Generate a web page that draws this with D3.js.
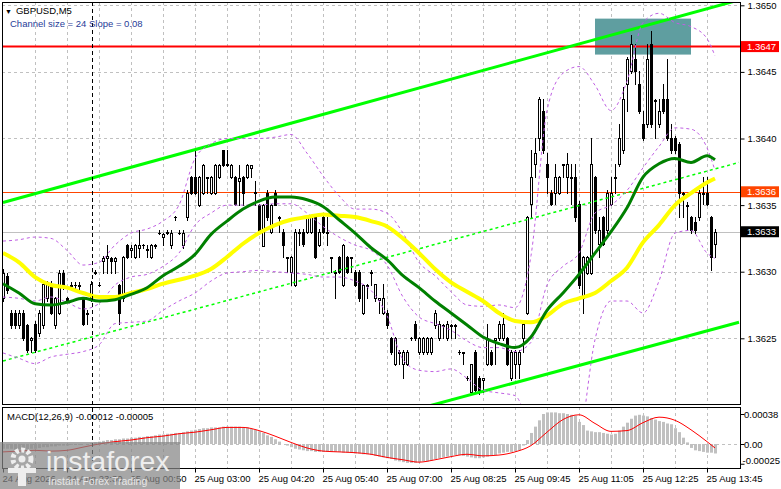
<!DOCTYPE html>
<html lang="en">
<head>
<meta charset="UTF-8">
<title>GBPUSD,M5</title>
<script src="https://d3js.org/d3.v7.min.js"></script>
<style>
  body { margin: 0; background: #fff; }
  svg { display: block; font-family: "Liberation Sans", Arial, sans-serif; }
</style>
</head>
<body>
<svg id="chart" width="781" height="489"></svg>
<script>
// 5-minute candles (bar 0 = leftmost)
const opens = [
  1.36280, 1.36297, 1.36269, 1.36269, 1.36260, 1.36269, 1.36260, 1.36249, 1.36261, 1.36254,
  1.36260, 1.36280, 1.36291, 1.36260, 1.36269, 1.36299, 1.36280, 1.36290, 1.36290, 1.36290,
  1.36280, 1.36269, 1.36280, 1.36299, 1.36290, 1.36308, 1.36310, 1.36310, 1.36308, 1.36290,
  1.36280, 1.36320, 1.36316, 1.36311, 1.36318, 1.36320, 1.36316, 1.36311, 1.36320, 1.36329,
  1.36326, 1.36329, 1.36320, 1.36341, 1.36329, 1.36320, 1.36341, 1.36371, 1.36371, 1.36350,
  1.36359, 1.36370, 1.36359, 1.36359, 1.36371, 1.36391, 1.36380, 1.36371, 1.36371, 1.36368,
  1.36371, 1.36371, 1.36378, 1.36359, 1.36350, 1.36319, 1.36359, 1.36330, 1.36359, 1.36341,
  1.36330, 1.36310, 1.36300, 1.36290, 1.36329, 1.36330, 1.36330, 1.36330, 1.36341, 1.36320,
  1.36341, 1.36329, 1.36310, 1.36300, 1.36311, 1.36290, 1.36311, 1.36310, 1.36300, 1.36300,
  1.36269, 1.36289, 1.36299, 1.36280, 1.36279, 1.36269, 1.36269, 1.36250, 1.36231, 1.36240,
  1.36231, 1.36231, 1.36250, 1.36261, 1.36240, 1.36240, 1.36240, 1.36240, 1.36260, 1.36250,
  1.36259, 1.36250, 1.36259, 1.36260, 1.36240, 1.36239, 1.36220, 1.36210, 1.36240, 1.36220,
  1.36219, 1.36231, 1.36240, 1.36249, 1.36250, 1.36250, 1.36250, 1.36220, 1.36231, 1.36231,
  1.36250, 1.36269, 1.36351, 1.36381, 1.36400, 1.36421, 1.36381, 1.36359, 1.36359, 1.36359,
  1.36380, 1.36371, 1.36370, 1.36371, 1.36351, 1.36280, 1.36299, 1.36299, 1.36371, 1.36321,
  1.36341, 1.36331, 1.36351, 1.36370, 1.36381, 1.36391, 1.36441, 1.36451, 1.36460, 1.36441,
  1.36411, 1.36411, 1.36471, 1.36428, 1.36411, 1.36430, 1.36430, 1.36400, 1.36400, 1.36396,
  1.36358, 1.36349, 1.36341, 1.36337, 1.36341, 1.36359, 1.36359, 1.36341, 1.36321
];
const highs = [
  1.36302, 1.36299, 1.36271, 1.36271, 1.36271, 1.36271, 1.36261, 1.36251, 1.36263, 1.36271,
  1.36293, 1.36293, 1.36293, 1.36281, 1.36301, 1.36301, 1.36281, 1.36292, 1.36292, 1.36292,
  1.36281, 1.36271, 1.36293, 1.36301, 1.36292, 1.36312, 1.36320, 1.36311, 1.36311, 1.36291,
  1.36312, 1.36321, 1.36320, 1.36321, 1.36331, 1.36321, 1.36320, 1.36321, 1.36321, 1.36331,
  1.36329, 1.36331, 1.36331, 1.36342, 1.36331, 1.36331, 1.36361, 1.36372, 1.36391, 1.36372,
  1.36381, 1.36371, 1.36372, 1.36381, 1.36381, 1.36391, 1.36391, 1.36381, 1.36372, 1.36380,
  1.36372, 1.36381, 1.36380, 1.36368, 1.36351, 1.36351, 1.36361, 1.36351, 1.36361, 1.36342,
  1.36332, 1.36311, 1.36312, 1.36332, 1.36332, 1.36332, 1.36342, 1.36342, 1.36342, 1.36332,
  1.36342, 1.36341, 1.36311, 1.36301, 1.36312, 1.36321, 1.36312, 1.36311, 1.36301, 1.36301,
  1.36291, 1.36291, 1.36301, 1.36291, 1.36280, 1.36291, 1.36271, 1.36251, 1.36251, 1.36241,
  1.36241, 1.36241, 1.36251, 1.36263, 1.36251, 1.36251, 1.36251, 1.36251, 1.36271, 1.36263,
  1.36261, 1.36263, 1.36261, 1.36261, 1.36241, 1.36240, 1.36222, 1.36231, 1.36241, 1.36222,
  1.36220, 1.36261, 1.36241, 1.36250, 1.36263, 1.36269, 1.36251, 1.36241, 1.36241, 1.36241,
  1.36263, 1.36342, 1.36391, 1.36400, 1.36431, 1.36430, 1.36389, 1.36361, 1.36381, 1.36372,
  1.36381, 1.36389, 1.36381, 1.36381, 1.36353, 1.36312, 1.36312, 1.36400, 1.36372, 1.36341,
  1.36342, 1.36361, 1.36371, 1.36381, 1.36411, 1.36439, 1.36461, 1.36478, 1.36471, 1.36451,
  1.36421, 1.36471, 1.36481, 1.36430, 1.36430, 1.36441, 1.36460, 1.36411, 1.36402, 1.36397,
  1.36360, 1.36352, 1.36342, 1.36341, 1.36361, 1.36371, 1.36371, 1.36342, 1.36332
];
const lows = [
  1.36278, 1.36284, 1.36258, 1.36258, 1.36258, 1.36249, 1.36240, 1.36240, 1.36240, 1.36252,
  1.36258, 1.36278, 1.36268, 1.36258, 1.36268, 1.36287, 1.36278, 1.36288, 1.36288, 1.36287,
  1.36260, 1.36261, 1.36278, 1.36298, 1.36289, 1.36299, 1.36299, 1.36299, 1.36299, 1.36261,
  1.36278, 1.36310, 1.36311, 1.36310, 1.36311, 1.36318, 1.36311, 1.36310, 1.36318, 1.36328,
  1.36320, 1.36328, 1.36318, 1.36339, 1.36328, 1.36318, 1.36339, 1.36358, 1.36358, 1.36349,
  1.36358, 1.36359, 1.36358, 1.36358, 1.36370, 1.36379, 1.36379, 1.36370, 1.36350, 1.36350,
  1.36350, 1.36370, 1.36371, 1.36350, 1.36329, 1.36319, 1.36339, 1.36329, 1.36350, 1.36330,
  1.36311, 1.36300, 1.36290, 1.36289, 1.36320, 1.36319, 1.36329, 1.36329, 1.36310, 1.36319,
  1.36329, 1.36320, 1.36300, 1.36280, 1.36299, 1.36289, 1.36299, 1.36300, 1.36289, 1.36278,
  1.36268, 1.36280, 1.36290, 1.36278, 1.36269, 1.36268, 1.36258, 1.36238, 1.36230, 1.36231,
  1.36220, 1.36230, 1.36249, 1.36249, 1.36238, 1.36238, 1.36238, 1.36238, 1.36258, 1.36249,
  1.36250, 1.36249, 1.36250, 1.36250, 1.36238, 1.36231, 1.36219, 1.36209, 1.36209, 1.36208,
  1.36210, 1.36230, 1.36230, 1.36231, 1.36249, 1.36249, 1.36230, 1.36219, 1.36220, 1.36220,
  1.36240, 1.36268, 1.36341, 1.36371, 1.36391, 1.36389, 1.36359, 1.36350, 1.36351, 1.36358,
  1.36371, 1.36359, 1.36351, 1.36338, 1.36288, 1.36269, 1.36298, 1.36298, 1.36329, 1.36311,
  1.36320, 1.36329, 1.36350, 1.36359, 1.36379, 1.36389, 1.36421, 1.36449, 1.36441, 1.36419,
  1.36399, 1.36409, 1.36409, 1.36400, 1.36409, 1.36419, 1.36399, 1.36389, 1.36389, 1.36341,
  1.36341, 1.36331, 1.36329, 1.36329, 1.36339, 1.36351, 1.36350, 1.36301, 1.36311
];
const closes = [
  1.36299, 1.36286, 1.36260, 1.36260, 1.36269, 1.36250, 1.36241, 1.36250, 1.36241, 1.36269,
  1.36291, 1.36291, 1.36269, 1.36280, 1.36299, 1.36290, 1.36279, 1.36289, 1.36290, 1.36289,
  1.36261, 1.36268, 1.36291, 1.36300, 1.36290, 1.36310, 1.36312, 1.36308, 1.36310, 1.36269,
  1.36311, 1.36311, 1.36318, 1.36320, 1.36320, 1.36320, 1.36317, 1.36320, 1.36319, 1.36329,
  1.36328, 1.36330, 1.36329, 1.36341, 1.36329, 1.36329, 1.36359, 1.36359, 1.36359, 1.36371,
  1.36380, 1.36371, 1.36371, 1.36380, 1.36380, 1.36380, 1.36381, 1.36380, 1.36351, 1.36370,
  1.36359, 1.36380, 1.36380, 1.36360, 1.36330, 1.36350, 1.36341, 1.36350, 1.36350, 1.36340,
  1.36320, 1.36311, 1.36311, 1.36330, 1.36330, 1.36321, 1.36341, 1.36341, 1.36311, 1.36330,
  1.36330, 1.36330, 1.36311, 1.36299, 1.36300, 1.36320, 1.36300, 1.36311, 1.36290, 1.36280,
  1.36290, 1.36290, 1.36300, 1.36291, 1.36280, 1.36280, 1.36260, 1.36240, 1.36250, 1.36239,
  1.36240, 1.36240, 1.36250, 1.36250, 1.36250, 1.36250, 1.36250, 1.36250, 1.36269, 1.36261,
  1.36260, 1.36261, 1.36260, 1.36259, 1.36240, 1.36240, 1.36220, 1.36231, 1.36211, 1.36211,
  1.36220, 1.36250, 1.36231, 1.36250, 1.36261, 1.36261, 1.36231, 1.36240, 1.36240, 1.36240,
  1.36261, 1.36341, 1.36371, 1.36389, 1.36430, 1.36391, 1.36371, 1.36351, 1.36371, 1.36371,
  1.36381, 1.36381, 1.36371, 1.36341, 1.36290, 1.36311, 1.36311, 1.36381, 1.36331, 1.36331,
  1.36321, 1.36359, 1.36359, 1.36371, 1.36400, 1.36430, 1.36460, 1.36471, 1.36451, 1.36421,
  1.36400, 1.36460, 1.36411, 1.36429, 1.36421, 1.36421, 1.36400, 1.36391, 1.36391, 1.36359,
  1.36359, 1.36350, 1.36331, 1.36331, 1.36359, 1.36358, 1.36351, 1.36311, 1.36330
];

// indicator lines read every 4th bar
const lineBars = [0, 4, 8, 12, 16, 20, 24, 28, 32, 36, 40, 44, 48, 52, 56, 60, 64, 68, 72, 76, 80, 84, 88,
  92, 96, 100, 104, 108, 112, 116, 120, 124, 128, 132, 136, 140, 144, 148, 152, 156, 160, 164, 168, 172, 176, 178];
const maGreen = [1.36291, 1.36284, 1.36276, 1.36275, 1.36277, 1.36280, 1.36278, 1.36279, 1.36283, 1.36288,
  1.36297, 1.36304, 1.36313, 1.36328, 1.36338, 1.36347, 1.36353, 1.36356, 1.36356, 1.36354, 1.36349, 1.36339,
  1.36329, 1.36318, 1.36309, 1.36297, 1.36288, 1.36278, 1.36269, 1.36260, 1.36251, 1.36246, 1.36243, 1.36251,
  1.36271, 1.36284, 1.36298, 1.36314, 1.36330, 1.36348, 1.36371, 1.36381, 1.36385, 1.36382, 1.36387, 1.36384];
const maYellow = [1.36314, 1.36307, 1.36296, 1.36290, 1.36288, 1.36284, 1.36281, 1.36281, 1.36284, 1.36287,
  1.36291, 1.36294, 1.36297, 1.36302, 1.36311, 1.36321, 1.36329, 1.36335, 1.36339, 1.36341, 1.36343, 1.36342,
  1.36341, 1.36338, 1.36334, 1.36325, 1.36314, 1.36302, 1.36292, 1.36285, 1.36278, 1.36269, 1.36263, 1.36262,
  1.36267, 1.36276, 1.36280, 1.36284, 1.36293, 1.36303, 1.36322, 1.36335, 1.36350, 1.36359, 1.36367, 1.36370];
const bandUpper = [1.36323, 1.36324, 1.36326, 1.36325, 1.36316, 1.36305, 1.36307, 1.36320, 1.36329, 1.36332,
  1.36338, 1.36350, 1.36385, 1.36396, 1.36400, 1.36400, 1.36400, 1.36401, 1.36403, 1.36389, 1.36372, 1.36357,
  1.36347, 1.36347, 1.36344, 1.36329, 1.36307, 1.36297, 1.36285, 1.36275, 1.36274, 1.36275, 1.36273, 1.36312,
  1.36421, 1.36449, 1.36454, 1.36440, 1.36421, 1.36443, 1.36487, 1.36494, 1.36487, 1.36484, 1.36475, 1.36462];
const bandMiddle = [1.36281, 1.36280, 1.36278, 1.36281, 1.36277, 1.36272, 1.36276, 1.36290, 1.36296, 1.36298,
  1.36304, 1.36314, 1.36335, 1.36344, 1.36350, 1.36350, 1.36350, 1.36351, 1.36351, 1.36344, 1.36334, 1.36326,
  1.36320, 1.36316, 1.36305, 1.36281, 1.36266, 1.36261, 1.36256, 1.36248, 1.36243, 1.36243, 1.36240, 1.36247,
  1.36290, 1.36304, 1.36314, 1.36344, 1.36350, 1.36361, 1.36378, 1.36394, 1.36408, 1.36407, 1.36393, 1.36376];
const bandLower = [1.36239, 1.36235, 1.36231, 1.36236, 1.36238, 1.36240, 1.36245, 1.36261, 1.36262, 1.36263,
  1.36271, 1.36278, 1.36284, 1.36293, 1.36299, 1.36300, 1.36301, 1.36300, 1.36299, 1.36298, 1.36296, 1.36296,
  1.36293, 1.36286, 1.36267, 1.36234, 1.36226, 1.36225, 1.36227, 1.36220, 1.36211, 1.36209, 1.36207, 1.36181,
  1.36159, 1.36159, 1.36174, 1.36249, 1.36278, 1.36278, 1.36269, 1.36293, 1.36329, 1.36331, 1.36314, 1.36310];

// MACD(12,26,9): histogram per bar, signal every 4th bar
const macdHist = [
  -0.00006, -0.00006, -0.00006, -0.00007, -0.00007, -0.00007, -0.00007, -0.00006, -0.00006, -0.00005,
  -0.00004, -0.00004, -0.00003, -0.00003, -0.00002, -0.00002, -0.00002, -0.00001, -0.00001, -0.00001,
  0.00000, 0.00000, 0.00001, 0.00002, 0.00003, 0.00004, 0.00005, 0.00005, 0.00006, 0.00006,
  0.00007, 0.00007, 0.00008, 0.00008, 0.00009, 0.00009, 0.00010, 0.00010, 0.00011, 0.00012,
  0.00012, 0.00013, 0.00013, 0.00014, 0.00014, 0.00015, 0.00016, 0.00017, 0.00018, 0.00019,
  0.00020, 0.00020, 0.00021, 0.00021, 0.00021, 0.00022, 0.00022, 0.00022, 0.00022, 0.00022,
  0.00021, 0.00021, 0.00019, 0.00018, 0.00016, 0.00014, 0.00011, 0.00009, 0.00006, 0.00003,
  0.00000, -0.00002, -0.00004, -0.00006, -0.00007, -0.00008, -0.00009, -0.00009, -0.00010, -0.00010,
  -0.00010, -0.00010, -0.00010, -0.00010, -0.00010, -0.00011, -0.00011, -0.00011, -0.00012, -0.00012,
  -0.00013, -0.00013, -0.00014, -0.00015, -0.00016, -0.00017, -0.00018, -0.00019, -0.00021, -0.00022,
  -0.00023, -0.00024, -0.00024, -0.00024, -0.00023, -0.00022, -0.00022, -0.00021, -0.00019, -0.00018,
  -0.00017, -0.00016, -0.00015, -0.00014, -0.00014, -0.00015, -0.00016, -0.00017, -0.00018, -0.00018,
  -0.00017, -0.00016, -0.00015, -0.00014, -0.00012, -0.00011, -0.00010, -0.00010, -0.00009, -0.00008,
  -0.00002, 0.00005, 0.00014, 0.00022, 0.00030, 0.00038, 0.00040, 0.00040, 0.00040, 0.00039,
  0.00039, 0.00038, 0.00037, 0.00036, 0.00028, 0.00024, 0.00017, 0.00016, 0.00015, 0.00015,
  0.00014, 0.00013, 0.00012, 0.00013, 0.00017, 0.00022, 0.00027, 0.00032, 0.00036, 0.00037,
  0.00036, 0.00035, 0.00033, 0.00031, 0.00029, 0.00028, 0.00026, 0.00025, 0.00020, 0.00015,
  0.00008, 0.00002, -0.00005, -0.00008, -0.00009, -0.00010, -0.00011, -0.00011, -0.00012
];
const macdSignal = [-0.00010, -0.00009, -0.00008, -0.00009, -0.00008, -0.00004, 0.00000, 0.00003, 0.00005, 0.00008,
  0.00010, 0.00013, 0.00015, 0.00018, 0.00021, 0.00021, 0.00017, 0.00010, 0.00002, -0.00005, -0.00009, -0.00010,
  -0.00011, -0.00013, -0.00017, -0.00020, -0.00023, -0.00020, -0.00016, -0.00013, -0.00015, -0.00014, -0.00010, -0.00002,
  0.00015, 0.00031, 0.00037, 0.00026, 0.00016, 0.00017, 0.00027, 0.00034, 0.00030, 0.00018, 0.00003, -0.00005];

// channel object: values at bar 0 and bar 184
const channelBars = [0, 184];
const channelUpper = [1.36352, 1.36504];
const channelMiddle = [1.36233, 1.36382];
const channelLower = [1.36113, 1.36262];

// levels and the marked zone
const resistanceLevel = 1.36469;
const supportLevel = 1.36360;
const bidLevel = 1.36330;
const zoneBars = [148, 172];
const zonePrices = [1.36490, 1.36463];

// axes
const priceTicks = [1.3650, 1.3645, 1.3640, 1.3635, 1.3630, 1.3625];
const macdTicks = [0.00038, 0, -0.00025];
const macdTickLabels = ['0.00038', '0.00', '-0.00025'];
const timeBars = [0, 16, 32, 48, 64, 80, 96, 112, 128, 144, 160, 176];
const timeLabels = ['24 Aug 2026', '24 Aug 23:30', '25 Aug 00:50', '25 Aug 03:00', '25 Aug 04:20', '25 Aug 05:40',
  '25 Aug 07:00', '25 Aug 08:25', '25 Aug 09:45', '25 Aug 11:05', '25 Aug 12:25', '25 Aug 13:45'];
const gridBars = d3.range(8, 184, 8);
const dayBreakBar = 22.25;

const svg = d3.select('#chart');
const left = 2, right = 740, mainTop = 2, mainBottom = 404, macdTop = 407, macdBottom = 468;
const fontSize = '9.5px';

const x = d3.scaleLinear().domain([0, 184]).range([3, 739]);
const y = d3.scaleLinear().domain([1.3625, 1.3650]).range([338.3, 5.3]);
const ym = d3.scaleLinear().domain([0, 0.00038]).range([444, 414]);

svg.append('rect').attr('width', 781).attr('height', 489).attr('fill', '#fff');

const defs = svg.append('defs');
defs.append('clipPath').attr('id', 'clipMain').append('rect')
  .attr('x', left).attr('y', mainTop).attr('width', right - left).attr('height', mainBottom - mainTop);
defs.append('clipPath').attr('id', 'clipMacd').append('rect')
  .attr('x', left).attr('y', macdTop).attr('width', right - left).attr('height', macdBottom - macdTop);

const main = svg.append('g').attr('clip-path', 'url(#clipMain)');
const macd = svg.append('g').attr('clip-path', 'url(#clipMacd)');

// grid
const px = v => Math.round(v) + 0.5;
[[main, mainTop, mainBottom], [macd, macdTop, macdBottom]].forEach(([g, t, b]) => {
  g.selectAll(null).data(gridBars).join('line')
    .attr('x1', i => px(x(i))).attr('x2', i => px(x(i)))
    .attr('y1', t).attr('y2', b)
    .attr('stroke', '#c0c0c0').attr('stroke-dasharray', '3,3');
});
main.selectAll(null).data(priceTicks).join('line')
  .attr('x1', left).attr('x2', right)
  .attr('y1', d => px(y(d))).attr('y2', d => px(y(d)))
  .attr('stroke', '#c0c0c0').attr('stroke-dasharray', '3,3');
macd.append('line')
  .attr('x1', left).attr('x2', right).attr('y1', px(ym(0))).attr('y2', px(ym(0)))
  .attr('stroke', '#c0c0c0').attr('stroke-dasharray', '3,3');

// zone box
main.append('rect')
  .attr('x', x(zoneBars[0])).attr('width', x(zoneBars[1]) - x(zoneBars[0]))
  .attr('y', y(zonePrices[0])).attr('height', y(zonePrices[1]) - y(zonePrices[0]))
  .attr('fill', '#5f9ea0');

// horizontal levels
main.append('line').attr('x1', left).attr('x2', right)
  .attr('y1', px(y(bidLevel))).attr('y2', px(y(bidLevel))).attr('stroke', '#c0c0c0');
main.append('line').attr('x1', left).attr('x2', right)
  .attr('y1', px(y(supportLevel))).attr('y2', px(y(supportLevel))).attr('stroke', '#ff4500');
main.append('line').attr('x1', left).attr('x2', right)
  .attr('y1', y(resistanceLevel)).attr('y2', y(resistanceLevel)).attr('stroke', '#ff0000').attr('stroke-width', 2);

// candles
const bars = d3.range(closes.length);
const candles = main.append('g').selectAll('g').data(bars).join('g');
candles.append('line')
  .attr('x1', i => px(x(i))).attr('x2', i => px(x(i)))
  .attr('y1', i => Math.round(y(highs[i]))).attr('y2', i => Math.round(y(lows[i])) + 1)
  .attr('stroke', '#000');
candles.each(function (i) {
  const g = d3.select(this);
  const top = px(y(Math.max(opens[i], closes[i])));
  const bot = px(y(Math.min(opens[i], closes[i])));
  if (bot - top < 1) {
    g.append('line').attr('x1', Math.round(x(i)) - 1).attr('x2', Math.round(x(i)) + 2)
      .attr('y1', top).attr('y2', top).attr('stroke', '#000');
  } else {
    g.append('rect').attr('x', Math.round(x(i)) - 0.5).attr('width', 2)
      .attr('y', top).attr('height', bot - top)
      .attr('fill', closes[i] > opens[i] ? '#fff' : '#000').attr('stroke', '#000');
  }
});

// channel object
const chLine = d3.line().x(d => x(d[0])).y(d => y(d[1]));
[[channelUpper, 3, null], [channelMiddle, 1.5, '3,3'], [channelLower, 3, null]].forEach(([vals, w, dash]) => {
  main.append('path')
    .attr('d', chLine(channelBars.map((b, k) => [b, vals[k]])))
    .attr('fill', 'none').attr('stroke', '#00ff00').attr('stroke-width', w)
    .attr('stroke-dasharray', dash);
});

// indicator lines
const curve = d3.line().x(d => x(d[0])).y(d => y(d[1])).curve(d3.curveMonotoneX);
[bandUpper, bandMiddle, bandLower].forEach(vals => {
  main.append('path')
    .attr('d', curve(lineBars.map((b, k) => [b, vals[k]])))
    .attr('fill', 'none').attr('stroke', '#bf5fe3').attr('stroke-width', 1)
    .attr('stroke-dasharray', '3,3');
});
main.append('path')
  .attr('d', curve(lineBars.map((b, k) => [b, maYellow[k]])))
  .attr('fill', 'none').attr('stroke', '#ffff00').attr('stroke-width', 4);
main.append('path')
  .attr('d', curve(lineBars.map((b, k) => [b, maGreen[k]])))
  .attr('fill', 'none').attr('stroke', '#008000').attr('stroke-width', 3);

// MACD
macd.selectAll(null).data(bars).join('rect')
  .attr('x', i => Math.round(x(i)) - 1).attr('width', 3)
  .attr('y', i => Math.min(ym(0), ym(macdHist[i])))
  .attr('height', i => Math.abs(ym(macdHist[i]) - ym(0)))
  .attr('fill', '#c0c0c0');
macd.append('path')
  .attr('d', d3.line().x(d => x(d[0])).y(d => ym(d[1])).curve(d3.curveMonotoneX)(lineBars.map((b, k) => [b, macdSignal[k]])))
  .attr('fill', 'none').attr('stroke', '#ff0000').attr('stroke-width', 1);

// day separator
svg.append('line')
  .attr('x1', px(x(dayBreakBar))).attr('x2', px(x(dayBreakBar)))
  .attr('y1', mainTop).attr('y2', macdBottom)
  .attr('stroke', '#000').attr('stroke-dasharray', '4,3');

// frames
svg.append('rect').attr('x', left + 0.5).attr('y', mainTop + 0.5)
  .attr('width', right - left).attr('height', mainBottom - mainTop)
  .attr('fill', 'none').attr('stroke', '#000');
svg.append('rect').attr('x', left + 0.5).attr('y', macdTop + 0.5)
  .attr('width', right - left).attr('height', macdBottom - macdTop)
  .attr('fill', 'none').attr('stroke', '#000');

// axes
function styleAxis(g) {
  g.select('.domain').remove();
  g.selectAll('.tick line').attr('stroke', '#000');
  g.selectAll('.tick text').attr('fill', '#000').attr('font-size', fontSize)
    .attr('font-family', '"Liberation Sans", Arial, sans-serif');
}
svg.append('g').attr('transform', `translate(${right + 0.5},0)`)
  .call(d3.axisRight(y).tickValues(priceTicks).tickFormat(d3.format('.4f')).tickSize(4).tickPadding(3))
  .call(styleAxis);
svg.append('g').attr('transform', `translate(${right + 0.5},0)`)
  .call(d3.axisRight(ym).tickValues(macdTicks).tickFormat((d, i) => macdTickLabels[i]).tickSize(4).tickPadding(3))
  .call(styleAxis)
  .call(g => g.selectAll('.tick text').attr('x', 3.5))
  .call(g => g.selectAll('.tick text').filter((d, i) => i === 2).attr('x', 2).attr('y', -3));
svg.append('g').attr('transform', `translate(0,${macdBottom + 0.5})`)
  .call(d3.axisBottom(x).tickValues(timeBars).tickFormat((d, i) => timeLabels[i]).tickSize(4).tickPadding(3))
  .call(styleAxis)
  .call(g => g.selectAll('.tick text').attr('text-anchor', 'start').attr('dx', -1));

// price tags
[[resistanceLevel, '#ff0000'], [supportLevel, '#ff4500'], [bidLevel, '#000']].forEach(([v, c]) => {
  const cy = y(v);
  svg.append('rect').attr('x', right + 1).attr('y', cy - 5.5).attr('width', 38).attr('height', 11).attr('fill', c);
  svg.append('text').attr('x', right + 7).attr('y', cy).attr('dy', '0.35em')
    .attr('font-size', fontSize).attr('fill', '#fff').text(d3.format('.4f')(v));
});

// titles
svg.append('text').attr('x', 5).attr('y', 14).attr('font-size', fontSize).attr('fill', '#000')
  .call(t => t.append('tspan').attr('font-size', '7px').text('▼'))
  .call(t => t.append('tspan').attr('dx', 4).text('GBPUSD,M5'));
svg.append('text').attr('x', 10).attr('y', 27).attr('font-size', fontSize).attr('fill', '#1f3c98')
  .text('Channel size = 24 Slope = 0.08');
svg.append('text').attr('x', 7).attr('y', 420).attr('font-size', fontSize).attr('fill', '#000')
  .text('MACD(12,26,9) -0.00012 -0.00005');

// watermark
const wm = svg.append('g');
wm.append('rect').attr('x', 0).attr('y', 442).attr('width', 180).attr('height', 47)
  .attr('fill', '#858585').attr('opacity', 0.72);
wm.append('circle').attr('cx', 22).attr('cy', 459).attr('r', 9)
  .attr('fill', 'none').attr('stroke', '#eee').attr('stroke-width', 5).attr('stroke-dasharray', '3.5,2.4');
wm.append('circle').attr('cx', 22).attr('cy', 459).attr('r', 3.5).attr('fill', '#eee');
wm.append('rect').attr('x', 18).attr('y', 468).attr('width', 8).attr('height', 18).attr('fill', '#eee');
wm.append('rect').attr('x', 8).attr('y', 468).attr('width', 28).attr('height', 5).attr('fill', '#eee');
wm.append('text').attr('x', 46).attr('y', 471).attr('font-size', '28.5px').attr('fill', '#eee')
  .attr('font-family', '"Liberation Sans", Arial, sans-serif').text('instaforex');
wm.append('text').attr('x', 48).attr('y', 485).attr('font-size', '10.5px').attr('fill', '#e6e6e6')
  .text('Instant Forex Trading');
</script>
</body>
</html>
